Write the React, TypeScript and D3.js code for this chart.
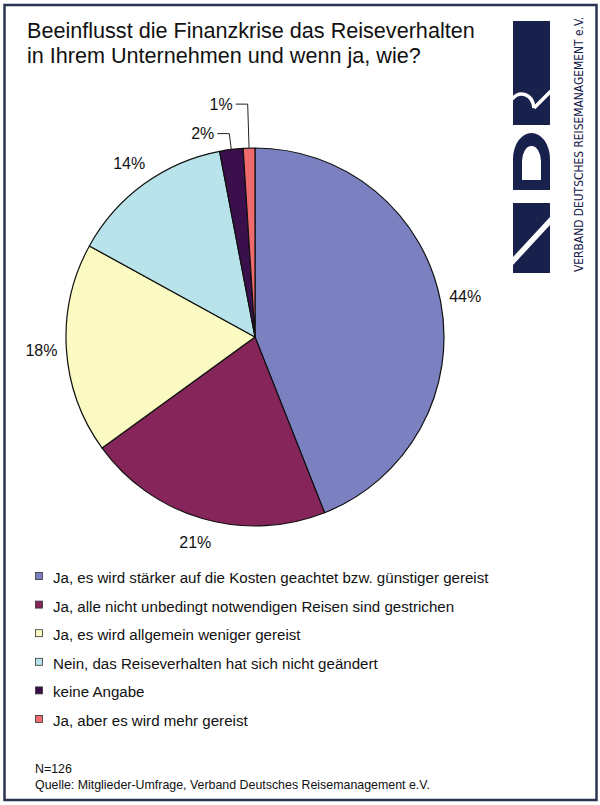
import React from 'react';
import * as d3 from 'd3';

const categories = [
  'Ja, es wird stärker auf die Kosten geachtet bzw. günstiger gereist',
  'Ja, alle nicht unbedingt notwendigen Reisen sind gestrichen',
  'Ja, es wird allgemein weniger gereist',
  'Nein, das Reiseverhalten hat sich nicht geändert',
  'keine Angabe',
  'Ja, aber es wird mehr gereist',
];
const values = [44, 21, 18, 14, 2, 1];
const labels = ['44%', '21%', '18%', '14%', '2%', '1%'];
const colors = ['#7b80c0', '#85255a', '#fafac2', '#b9e3eb', '#3b0f4c', '#f06b70'];
const titleLines = ['Beeinflusst die Finanzkrise das Reiseverhalten', 'in Ihrem Unternehmen und wenn ja, wie?'];
const footLines = ['N=126', 'Quelle: Mitglieder-Umfrage, Verband Deutsches Reisemanagement e.V.'];
const logoText = 'VERBAND DEUTSCHES REISEMANAGEMENT e.V.';

const W = 600, H = 805;
const cx = 255, cy = 337, R = 189;
const FONT = '"Liberation Sans", Arial, sans-serif';
const NAVY = '#17214b';

export default function App() {
  const pie = d3.pie<number>().sort(null).value(d => d).startAngle(0).endAngle(2 * Math.PI);
  const arcs = pie(values);
  const arc = d3.arc<d3.PieArcDatum<number>>().innerRadius(0).outerRadius(R);
  const labelArc = d3.arc<d3.PieArcDatum<number>>().innerRadius(214).outerRadius(214);
  const pt = (a: number, r: number) => [r * Math.sin(a), -r * Math.cos(a)];
  const leaderR = [0, 0, 0, 0, 205, 233];

  const legendY = d3.scaleLinear().domain([0, 5]).range([583, 726]);

  return (
    <svg width={W} height={H} style={{ position: 'absolute', left: 0, top: 0, background: '#fff' }}>
      <rect x={0} y={0} width={W} height={H} fill="#fff" />
      <rect x={4.5} y={5} width={592} height={795} fill="none" stroke="#2a3352" strokeWidth={2.5} />
      {titleLines.map((t, i) => (
        <text key={i} x={27} y={38 + i * 25} fontFamily={FONT} fontSize={21.6} fill="#111">{t}</text>
      ))}
      {/* Logo (drawn in letter frame: u along the word, v down the letter height) */}
      <g transform="matrix(0,-1,1,0,513,273)">
        {/* V */}
        <path fill={NAVY} d="M16,0 L70,0 L70,37 L56,37 Z" />
        <path fill={NAVY} d="M0,0 L8,0 L48,37 L0,37 Z" />
        {/* D */}
        <path fillRule="evenodd" fill={NAVY}
          d="M83,0 H114 A26,18.5 0 0 1 114,37 H83 Z M93,9 H112 A15,9.5 0 0 1 112,28 H93 Z" />
        {/* R */}
        <rect x={148} y={0} width={104} height={37} fill={NAVY} />
        <path d="M174,-1 C182,6 181,19 165,21" fill="none" stroke="#fff" strokeWidth={3.5} />
        <path d="M165,21 L182,38" fill="none" stroke="#fff" strokeWidth={3.5} />
      </g>
      <text transform="translate(583,272) rotate(-90)" fontFamily='"DejaVu Sans Condensed", "DejaVu Sans", sans-serif'
        fontSize={11.9} fill={NAVY}>{logoText}</text>

      {/* Pie */}
      <g transform={`translate(${cx},${cy})`}>
        {arcs.map((a, i) => (
          <path key={i} d={arc(a) || ''} fill={colors[i]} stroke="#111" strokeWidth={1.2} strokeLinejoin="round" />
        ))}
        {arcs.map((a, i) => {
          const mid = (a.startAngle + a.endAngle) / 2;
          if (i < 4) {
            const [x, y] = labelArc.centroid(a);
            return (
              <text key={'l' + i} x={x} y={y} textAnchor="middle" dominantBaseline="central"
                fontFamily={FONT} fontSize={16} fill="#111">{labels[i]}</text>
            );
          }
          const [ex, ey] = pt(mid, R);
          const [bx, by] = pt(mid, leaderR[i]);
          const hx = bx - 12;
          return (
            <g key={'l' + i}>
              <polyline points={`${ex},${ey} ${bx},${by} ${hx},${by}`} fill="none" stroke="#222" strokeWidth={1} />
              <text x={hx - 3} y={by} textAnchor="end" dominantBaseline="central"
                fontFamily={FONT} fontSize={16} fill="#111">{labels[i]}</text>
            </g>
          );
        })}
      </g>

      {/* Legend */}
      {categories.map((c, i) => (
        <g key={'g' + i}>
          <rect x={35.5} y={legendY(i) - 10.5} width={7} height={7} fill={colors[i]} stroke="#333" strokeWidth={0.8} />
          <text x={53} y={legendY(i)} fontFamily={FONT} fontSize={15.1} fill="#111">{c}</text>
        </g>
      ))}

      {footLines.map((t, i) => (
        <text key={'f' + i} x={35} y={773 + i * 16} fontFamily={FONT} fontSize={12.4} fill="#111">{t}</text>
      ))}
    </svg>
  );
}
